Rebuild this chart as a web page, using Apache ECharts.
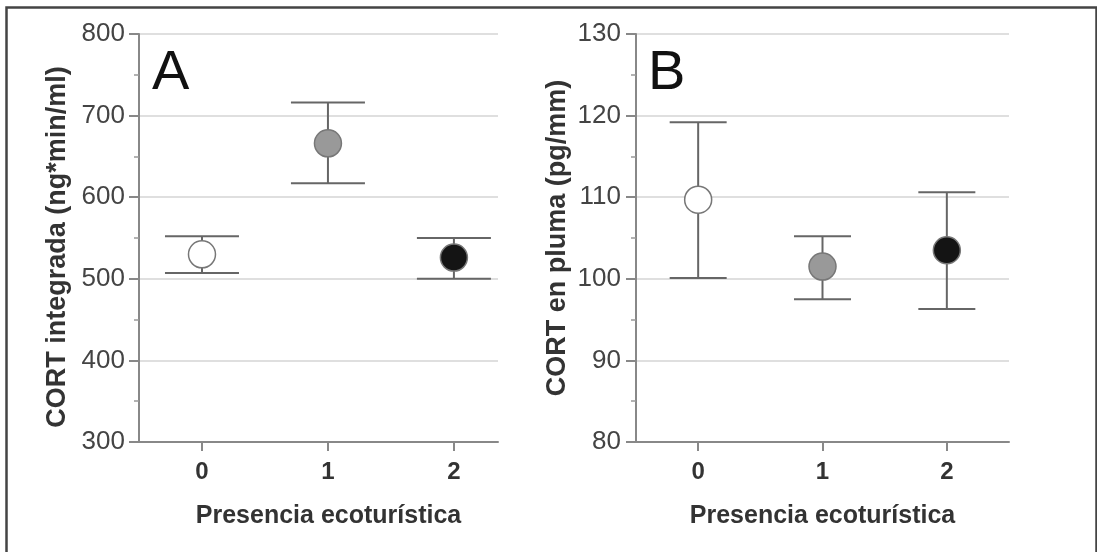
<!DOCTYPE html>
<html>
<head>
<meta charset="utf-8">
<script src="https://cdn.jsdelivr.net/npm/echarts@6/dist/echarts.min.js"></script>
<style>
html,body{margin:0;padding:0;background:#fff;}
#chart{width:1097px;height:552px;}
</style>
</head>
<body>
<div id="chart"></div>
<script>
// ---- data ----
const categories = [0, 1, 2];
const pointColors = ['#ffffff', '#999999', '#141414'];

const cortIntMean  = [530, 666, 526];
const cortIntUpper = [552, 716, 550];
const cortIntLower = [507, 617, 500];

const cortPlumMean  = [109.7, 101.5, 103.5];
const cortPlumUpper = [119.2, 105.2, 110.6];
const cortPlumLower = [100.1, 97.5, 96.3];

const xTitle = 'Presencia ecoturística';
const yTitleA = 'CORT integrada (ng*min/ml)';
const yTitleB = 'CORT en pluma (pg/mm)';
const panelLetters = ['A', 'B'];

// ---- chart ----
const FONT = '"Liberation Sans", Arial, Helvetica, sans-serif';
const chart = echarts.init(document.getElementById('chart'), null, {renderer: 'canvas'});

function errData(lower, upper) {
  return categories.map((c, i) => [c, lower[i], upper[i]]);
}
function meanData(mean) {
  return categories.map((c, i) => ({value: [c, mean[i]], itemStyle: {color: pointColors[i]}}));
}
function errRender(halfW) {
  return function (params, api) {
    const x = api.value(0);
    const lo = api.coord([x, api.value(1)]);
    const hi = api.coord([x, api.value(2)]);
    const style = {stroke: '#666', lineWidth: 2, fill: null};
    return {
      type: 'group',
      children: [
        {type: 'line', shape: {x1: lo[0], y1: lo[1], x2: hi[0], y2: hi[1]}, style: style},
        {type: 'line', shape: {x1: hi[0] - halfW, y1: hi[1], x2: hi[0] + halfW, y2: hi[1]}, style: style},
        {type: 'line', shape: {x1: lo[0] - halfW, y1: lo[1], x2: lo[0] + halfW, y2: lo[1]}, style: style}
      ]
    };
  };
}

function xAxisCfg(gridIndex, max, namePad) {
  return {
    type: 'value', gridIndex: gridIndex, min: -0.5, max: max,
    name: xTitle, nameLocation: 'middle', nameGap: 62,
    nameTextStyle: {fontFamily: FONT, fontSize: 25, fontWeight: 'bold', color: '#333', padding: namePad},
    axisLine: {show: true, onZero: false, lineStyle: {color: '#888', width: 2}},
    axisTick: {show: true, customValues: categories, length: 9, lineStyle: {color: '#888', width: 2}},
    axisLabel: {show: true, customValues: categories, margin: 18, fontFamily: FONT, fontSize: 24, fontWeight: 'bold', color: '#333'},
    splitLine: {show: false}
  };
}
function yAxisCfg(gridIndex, min, max, interval, name, nameGap, namePad, labelMargin) {
  return {
    type: 'value', gridIndex: gridIndex, min: min, max: max, interval: interval,
    name: name, nameLocation: 'middle', nameRotate: 90, nameGap: nameGap,
    nameTextStyle: {fontFamily: FONT, fontSize: 27, fontWeight: 'bold', color: '#333', padding: namePad},
    axisLine: {show: true, onZero: false, lineStyle: {color: '#888', width: 2}},
    axisTick: {show: true, length: 10, lineStyle: {color: '#888', width: 2}},
    minorTick: {show: true, splitNumber: 2, length: 5, lineStyle: {color: '#999', width: 1.5}},
    axisLabel: {margin: labelMargin, fontFamily: FONT, fontSize: 26, color: '#444'},
    splitLine: {show: true, lineStyle: {color: '#d4d4d4', width: 1.5}}
  };
}

const option = {
  backgroundColor: '#ffffff',
  animation: false,
  grid: [
    {left: 139, top: 34, width: 359, height: 408},
    {left: 636, top: 34, width: 373, height: 408}
  ],
  xAxis: [
    xAxisCfg(0, 2.35, [0, 0, 0, 20]),
    xAxisCfg(1, 2.5, [0, 0, 0, 0])
  ],
  yAxis: [
    yAxisCfg(0, 300, 800, 100, yTitleA, 68, [0, 18, 0, 0], 14),
    yAxisCfg(1, 80, 130, 10, yTitleB, 65, [0, 0, 0, 0], 15)
  ],
  graphic: [
    {type: 'rect', left: 4, top: 5, shape: {width: 1090, height: 580}, style: {fill: null, stroke: '#444', lineWidth: 2.5}, silent: true},
    {type: 'text', x: 152, y: 74, style: {text: panelLetters[0], font: '56px ' + FONT, fill: '#111', textVerticalAlign: 'middle'}},
    {type: 'text', x: 648, y: 74, style: {text: panelLetters[1], font: '56px ' + FONT, fill: '#111', textVerticalAlign: 'middle'}}
  ],
  series: [
    {type: 'custom', xAxisIndex: 0, yAxisIndex: 0, renderItem: errRender(37), data: errData(cortIntLower, cortIntUpper), z: 2, silent: true},
    {type: 'scatter', xAxisIndex: 0, yAxisIndex: 0, symbol: 'circle', symbolSize: 27, data: meanData(cortIntMean),
     itemStyle: {borderColor: '#777', borderWidth: 1.5, opacity: 1}, z: 3, silent: true},
    {type: 'custom', xAxisIndex: 1, yAxisIndex: 1, renderItem: errRender(28.5), data: errData(cortPlumLower, cortPlumUpper), z: 2, silent: true},
    {type: 'scatter', xAxisIndex: 1, yAxisIndex: 1, symbol: 'circle', symbolSize: 27, data: meanData(cortPlumMean),
     itemStyle: {borderColor: '#777', borderWidth: 1.5, opacity: 1}, z: 3, silent: true}
  ]
};
chart.setOption(option);
</script>
</body>
</html>
